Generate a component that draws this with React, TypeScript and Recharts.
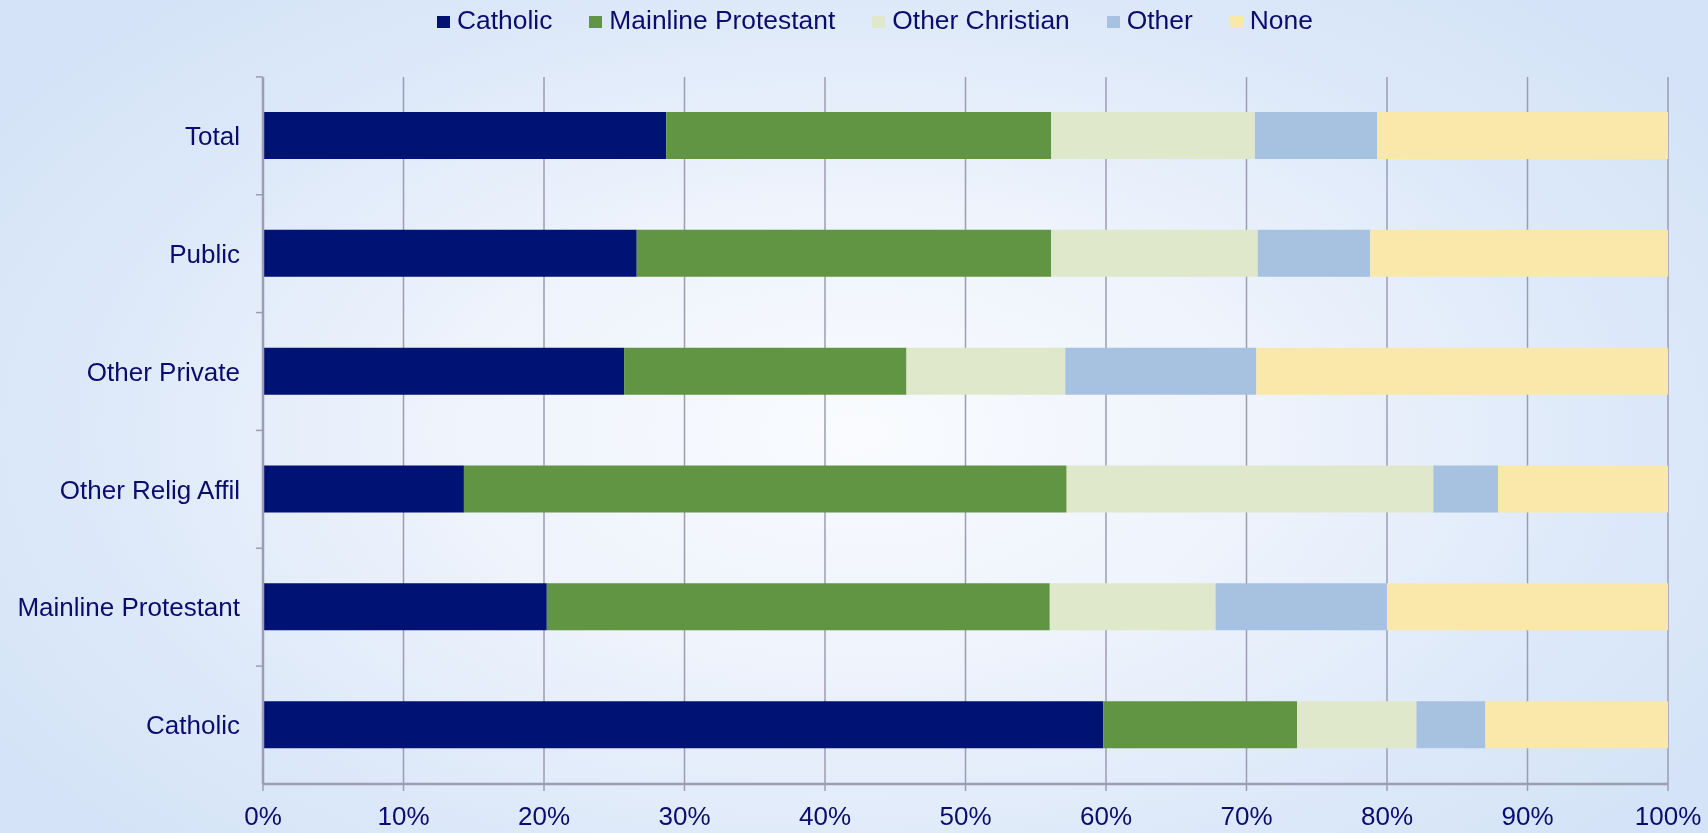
import { Bar, BarChart, CartesianGrid, Legend, XAxis, YAxis } from "recharts";

const categories = ["Total", "Public", "Other Private", "Other Relig Affil", "Mainline Protestant", "Catholic"];
const catholic = [28.7, 26.6, 25.7, 14.3, 20.2, 59.8];
const mainline = [27.4, 29.5, 20.1, 42.9, 35.8, 13.8];
const otherChristian = [14.5, 14.7, 11.3, 26.1, 11.8, 8.5];
const other = [8.7, 8.0, 13.6, 4.6, 12.2, 4.9];
const none = [20.7, 21.2, 29.3, 12.1, 20.0, 13.0];
const xTicks = [0, 10, 20, 30, 40, 50, 60, 70, 80, 90, 100];

const series = [
  { key: "catholic", name: "Catholic", color: "#001273" },
  { key: "mainline", name: "Mainline Protestant", color: "#619544" },
  { key: "otherChristian", name: "Other Christian", color: "#dfe8cb" },
  { key: "other", name: "Other", color: "#a7c1e0" },
  { key: "none", name: "None", color: "#fae8aa" },
];
const seriesOrder = series.map((s) => s.name);

const data = categories.map((name, i) => ({
  name,
  catholic: catholic[i],
  mainline: mainline[i],
  otherChristian: otherChristian[i],
  other: other[i],
  none: none[i],
}));

const TEXT = "#0c0c6e";
const AXIS = "#9d9db2";
const FONT = "'Liberation Sans', Arial, sans-serif";

const LegendContent = ({ payload }: any) => {
  const items = [...(payload || [])].sort((a: any, b: any) => seriesOrder.indexOf(a.value) - seriesOrder.indexOf(b.value));
  return (
    <div style={{ display: "flex", alignItems: "center", height: 40, paddingLeft: 437, fontFamily: FONT, fontSize: 26.4, color: TEXT }}>
      {items.map((p: any, i: number) => (
        <div key={i} style={{ display: "flex", alignItems: "center", marginRight: 37 }}>
          <span style={{ display: "inline-block", width: 13, height: 12, background: p.color, marginRight: 7, marginTop: 3 }} />
          <span>{p.value}</span>
        </div>
      ))}
    </div>
  );
};

export default function App() {
  return (
    <div
      style={{
        position: "fixed",
        top: 0,
        left: 0,
        width: 1708,
        height: 833,
        background: "radial-gradient(ellipse 60% 70% at 50% 52%, #f9fbfe 0%, #eef3fc 40%, #dde9f9 75%, #d4e3f7 100%)",
      }}
    >
      <BarChart width={1708} height={833} data={data} layout="vertical" margin={{ top: 37, right: 40, bottom: 0, left: 0 }} barSize={47}>
        <CartesianGrid horizontal={false} stroke={AXIS} strokeWidth={1.5} />
        <Legend verticalAlign="top" align="left" wrapperStyle={{ top: 0, left: 0, width: 1708, height: 40 }} content={<LegendContent />} />
        <XAxis
          type="number"
          domain={[0, 100]}
          ticks={xTicks}
          tickFormatter={(v) => `${v}%`}
          height={49}
          tickSize={7}
          tickMargin={16}
          stroke={AXIS}
          axisLine={{ stroke: AXIS, strokeWidth: 2.5 }}
          tickLine={{ stroke: AXIS, strokeWidth: 1.5 }}
          tick={{ fill: TEXT, fontSize: 26, fontFamily: FONT }}
        />
        <YAxis
          type="category"
          dataKey="name"
          width={263}
          tickSize={7}
          tickMargin={16}
          axisLine={{ stroke: AXIS, strokeWidth: 2.5 }}
          tickLine={{ stroke: AXIS, strokeWidth: 1.5, transform: "translate(0,-59)" }}
          tick={{ fill: TEXT, fontSize: 26, fontFamily: FONT }}
        />
        {series.map((s) => (
          <Bar key={s.key} dataKey={s.key} name={s.name} stackId="a" fill={s.color} isAnimationActive={false} />
        ))}
      </BarChart>
    </div>
  );
}
